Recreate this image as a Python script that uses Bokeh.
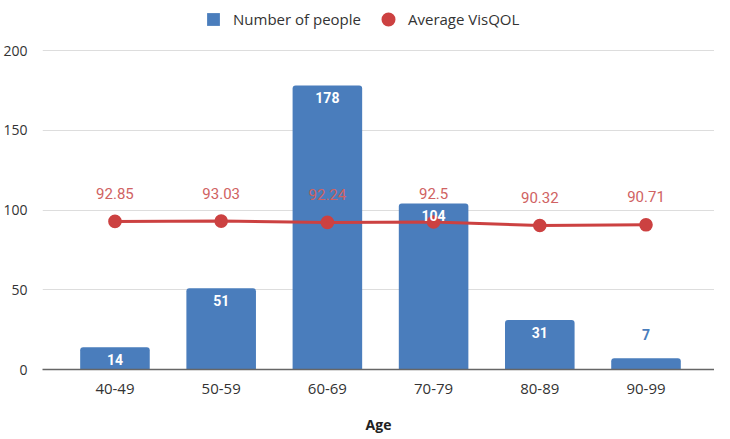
from bokeh.plotting import figure
from bokeh.models import (ColumnDataSource, Range1d, FixedTicker, Legend, LegendItem)
from bokeh.core.properties import value
from bokeh.embed import file_html
from bokeh.resources import INLINE

age_groups = ["40-49", "50-59", "60-69", "70-79", "80-89", "90-99"]
people = [14, 51, 178, 104, 31, 7]
visqol = [92.85, 93.03, 92.24, 92.5, 90.32, 90.71]
y_ticks = [0, 50, 100, 150, 200]

BLUE = "#4a7dbc"
RED = "#cc4141"
RED_TXT = "#d06262"
FONT = "Open Sans"

W, H = 714, 437
B_LEFT, B_BOTTOM = 37, 68
px_per_unit = 319 / 200.0
px_per_cat = 107.0

xs = list(range(len(age_groups)))
inside = [v * px_per_unit > 16 for v in people]


def pick(seq, flag):
    return [s for s, f in zip(seq, inside) if f == flag]


src_bar = ColumnDataSource(dict(x=xs, n=people))
src_in = ColumnDataSource(dict(x=pick(xs, True), n=pick(people, True),
                               lab=[str(v) for v in pick(people, True)]))
src_out = ColumnDataSource(dict(x=pick(xs, False), n=pick(people, False),
                                lab=[str(v) for v in pick(people, False)]))
src_line = ColumnDataSource(dict(x=xs, v=visqol, lab=[f"{v:g}" for v in visqol]))

x0 = -73 / px_per_cat
x1 = x0 + (W - B_LEFT) / px_per_cat
p = figure(width=W, height=H, output_backend="svg", toolbar_location=None,
           x_range=Range1d(x0, x1), y_range=Range1d(0, (H - B_BOTTOM) / px_per_unit),
           min_border_left=B_LEFT, min_border_right=0, min_border_top=0,
           min_border_bottom=B_BOTTOM)
p.outline_line_color = None
p.background_fill_color = "white"

bars = p.vbar(x="x", top="n", width=0.655, source=src_bar, fill_color=BLUE,
              line_color=None, border_radius=(3, 3, 0, 0))

p.line(x="x", y="v", source=src_line, line_color=RED, line_width=3)
# small marker + thick outline: same visible size in the plot and in the legend
pts = p.scatter(x="x", y="v", source=src_line, size=6, fill_color=RED,
                line_color=RED, line_width=7.6)

p.text(x="x", y="n", text="lab", source=src_in, text_color="white",
       text_font=value("Roboto"), text_font_style="bold", text_font_size="14px",
       text_align="center", text_baseline="middle", y_offset=12)
p.text(x="x", y="n", text="lab", source=src_out, text_color=BLUE,
       text_font=value("Roboto"), text_font_style="bold", text_font_size="14px",
       text_align="center", text_baseline="middle", y_offset=-24)
p.text(x="x", y="v", text="lab", source=src_line, text_color=RED_TXT,
       text_font=value("Roboto"), text_font_size="15px",
       text_align="center", text_baseline="middle", y_offset=-28)

p.xaxis.ticker = FixedTicker(ticks=xs)
p.xaxis.major_label_overrides = {i: a for i, a in enumerate(age_groups)}
p.xaxis.axis_line_color = "#666666"
p.xaxis.axis_line_width = 1.5
p.xaxis.major_tick_line_color = None
p.xaxis.minor_tick_line_color = None
p.xaxis.major_label_text_font = FONT
p.xaxis.major_label_text_font_size = "15px"
p.xaxis.major_label_text_color = "#333333"
p.xaxis.major_label_standoff = 8
p.xaxis.axis_label = "Age"
p.xaxis.axis_label_text_font = FONT
p.xaxis.axis_label_text_font_style = "bold"
p.xaxis.axis_label_text_font_size = "14px"
p.xaxis.axis_label_text_color = "#222222"
p.xaxis.axis_label_standoff = 18

p.yaxis.ticker = FixedTicker(ticks=y_ticks)
p.yaxis.axis_line_color = None
p.yaxis.major_tick_line_color = None
p.yaxis.minor_tick_line_color = None
p.yaxis.major_label_text_font = FONT
p.yaxis.major_label_text_font_size = "14px"
p.yaxis.major_label_text_color = "#333333"
p.yaxis.major_label_standoff = 9

p.xgrid.grid_line_color = None
p.ygrid.ticker = FixedTicker(ticks=y_ticks)
p.ygrid.grid_line_color = "#dddddd"
p.ygrid.grid_line_width = 1

legend = Legend(items=[LegendItem(label="Number of people", renderers=[bars]),
                       LegendItem(label="Average VisQOL", renderers=[pts])],
                orientation="horizontal", location=(163, 340),
                label_text_font=FONT, label_text_font_size="15px",
                label_text_color="#333333", glyph_width=16, glyph_height=16,
                spacing=19, label_standoff=12, padding=4,
                background_fill_alpha=0, border_line_color=None)
p.add_layout(legend, "center")

open("out.html", "w").write(file_html(p, INLINE))
